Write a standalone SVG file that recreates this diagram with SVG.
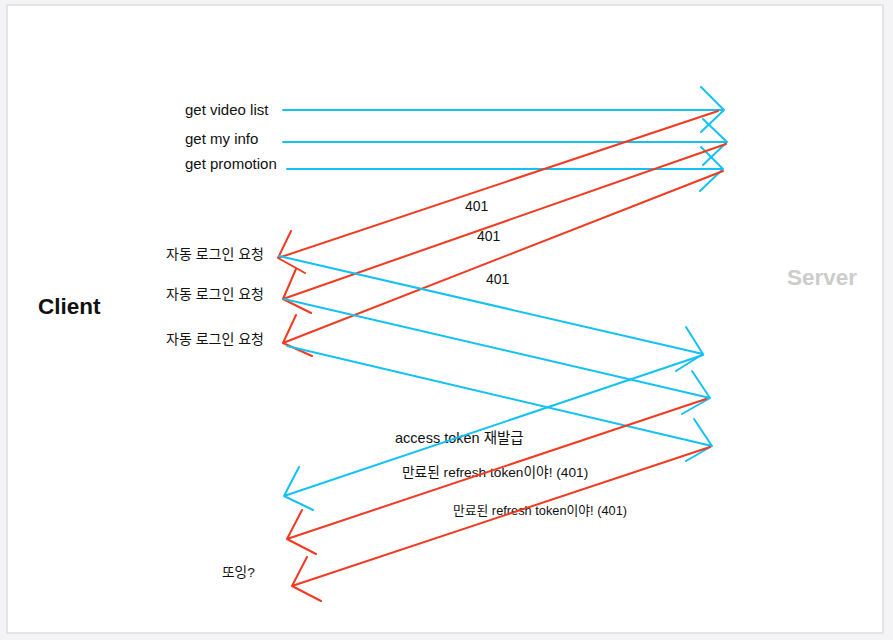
<svg xmlns="http://www.w3.org/2000/svg" width="893" height="640" viewBox="0 0 893 640">
<style>
.b{stroke:#13c2f3;stroke-width:2;fill:none;stroke-linecap:round;stroke-linejoin:round}
.r{stroke:#f23a20;stroke-width:2;fill:none;stroke-linecap:round;stroke-linejoin:round}
text{font-family:"Liberation Sans","Noto Sans CJK KR",sans-serif;fill:#111}
.t15{font-size:15px}
.t14{font-size:14px}
.big{font-size:22px;font-weight:bold}
</style>
<rect x="0" y="0" width="893" height="640" fill="#f4f4f6"/>
<rect x="7" y="5" width="876" height="628" fill="#ffffff" stroke="#e4e4e6" stroke-width="2"/>
<g id="client"><text class="big" x="38" y="314" style="font-size:22.5px">Client</text></g>
<g id="server"><text class="big" x="787" y="285" style="fill:#cccccc;font-size:22.5px">Server</text></g>
<g id="labels">
<text class="t15" x="185" y="115">get video list</text>
<text class="t15" x="185" y="144">get my info</text>
<text class="t15" x="185" y="169">get promotion</text>
<text class="t14" x="465" y="211">401</text>
<text class="t14" x="477" y="241">401</text>
<text class="t14" x="486" y="284">401</text>
<text class="t14" x="166" y="259">자동 로그인 요청</text>
<text class="t14" x="166" y="299">자동 로그인 요청</text>
<text class="t14" x="166" y="344">자동 로그인 요청</text>
<text x="395" y="443" style="font-size:14.5px">access token 재발급</text>
<text x="402" y="477" style="font-size:13.7px">만료된 refresh token이야! (401)</text>
<text x="453" y="515" style="font-size:12.8px">만료된 refresh token이야! (401)</text>
<text x="222" y="577" style="font-size:13.7px">또잉?</text>
</g>
<g id="connectors">
<path class="b" d="M283 110 L724 110 M701 87 L724 110 L701 132"/>
<path class="b" d="M283 142 L727 142 M703 119 L727 142 L703 165"/>
<path class="b" d="M287 169 L723 169 M701 147 L723 169 L700 191"/>
<path class="r" d="M718 111 L278 258 M291 231 L278 258 L305 273"/>
<path class="r" d="M726 144 L283 299 M296 269 L283 299 L311 313"/>
<path class="r" d="M723 171 L283 343 M296 315 L283 343 L312 356"/>
<path class="b" d="M279 256 L703 354 M686 327 L703 354 L676 371"/>
<path class="b" d="M284 299 L710 398 M692 371 L710 398 L682 414"/>
<path class="b" d="M287 346 L712 446 M694 419 L712 446 L686 461"/>
<path class="b" d="M703 355 L284 496 M299 467 L284 496 L313 510"/>
<path class="r" d="M706 399 L287 539 M302 510 L287 539 L316 554"/>
<path class="r" d="M710 447 L292 586 M307 557 L292 586 L321 601"/>
</g>
</svg>
